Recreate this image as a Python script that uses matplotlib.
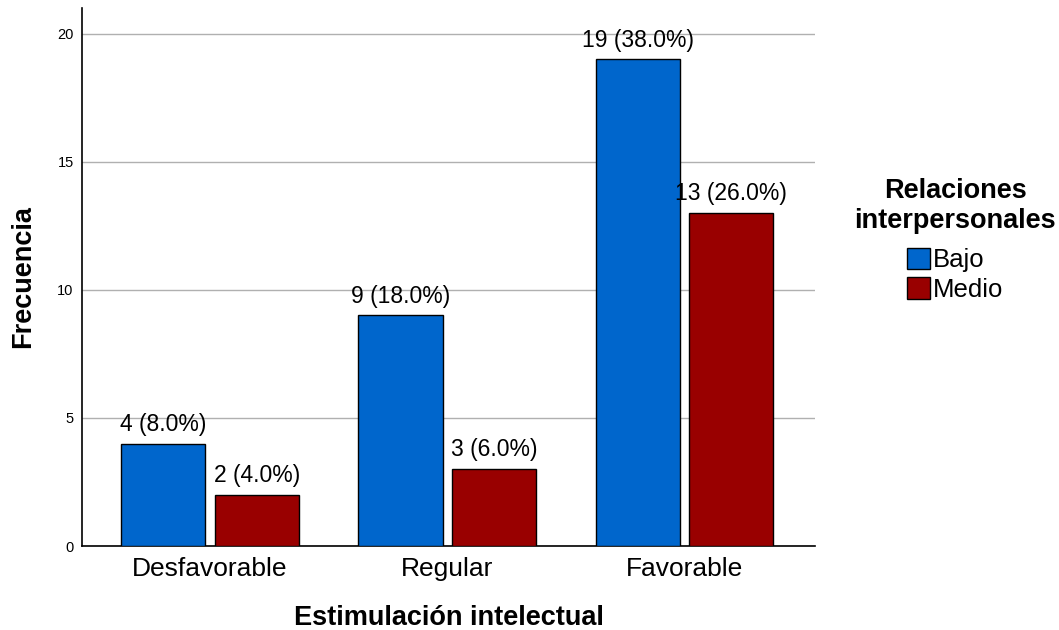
import numpy as np
import matplotlib.pyplot as plt
from matplotlib.patches import Patch

plt.rcParams['font.family'] = ['Liberation Sans', 'DejaVu Sans']

categorias = ['Desfavorable', 'Regular', 'Favorable']
bajo = [4, 9, 19]
medio = [2, 3, 13]
pct_bajo = [8.0, 18.0, 38.0]
pct_medio = [4.0, 6.0, 26.0]
series = ['Bajo', 'Medio']
colores = ['#0066CC', '#990000']

fig = plt.figure(figsize=(10.59, 6.30), dpi=100)
ax = fig.add_axes([0.0774, 0.1333, 0.6922, 0.854])

x = np.arange(len(categorias))
ancho = 0.355
sep = 0.04
desplaz = (ancho + sep) / 2

for vals, pcts, off, col in [(bajo, pct_bajo, -desplaz, colores[0]),
                             (medio, pct_medio, desplaz, colores[1])]:
    ax.bar(x + off, vals, width=ancho, color=col, edgecolor='black',
           linewidth=1.0, zorder=3)
    for xi, v, p in zip(x, vals, pcts):
        ax.text(xi + off, v + 0.3, f'{v} ({p:.1f}%)', ha='center',
                va='bottom', fontsize=16.5, zorder=4)

ax.set_xlim(-0.54, 2.55)
ax.set_ylim(0, 21)
ax.set_yticks([0, 5, 10, 15, 20])
ax.set_xticks(x)
ax.set_xticklabels(categorias, fontsize=19)
ax.tick_params(axis='y', length=0, labelsize=10.5, pad=6)
ax.tick_params(axis='x', length=0, pad=8)
ax.yaxis.grid(True, color='#B0B0B0', linewidth=1.0, zorder=0)
ax.spines['top'].set_visible(False)
ax.spines['right'].set_visible(False)
ax.spines['left'].set_linewidth(1.2)
ax.spines['bottom'].set_linewidth(1.2)

ax.set_xlabel('Estimulación intelectual', fontsize=19.5, fontweight='bold',
              labelpad=17)
ax.set_ylabel('Frecuencia', fontsize=19.5, fontweight='bold', labelpad=15)

handles = [Patch(facecolor=c, edgecolor='black', label=s)
           for c, s in zip(colores, series)]
leg = fig.legend(handles=handles, title='Relaciones\ninterpersonales',
                 loc='upper center', bbox_to_anchor=(0.902, 0.738), frameon=False,
                 fontsize=18.5, title_fontproperties={'weight': 'bold', 'size': 19.5},
                 handlelength=0.9, handleheight=0.9, handletextpad=0.12,
                 labelspacing=0.2, borderpad=0)
leg.get_title().set_multialignment('center')
leg._legend_box.align = 'center'
leg._legend_box.sep = 10

fig.savefig('out.png', dpi=100)
